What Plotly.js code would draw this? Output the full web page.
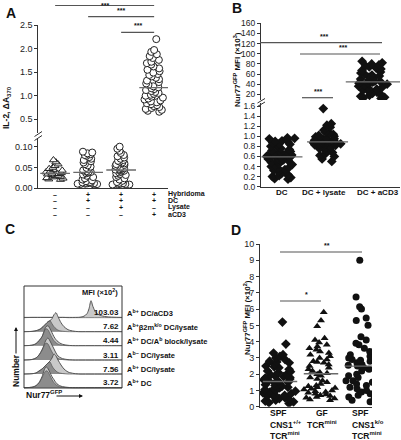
<!DOCTYPE html>
<html><head><meta charset="utf-8">
<script src="https://cdn.plot.ly/plotly-3.0.1.min.js"></script>
<style>html,body{margin:0;padding:0;background:#fff}#chart{width:401px;height:440px}</style>
</head><body><div id="chart"></div>
<script>
// ================= DATA =================
// Panel A: IL-2 (ΔA370) per culture condition
const aTableRows = ['Hybridoma', 'DC', 'Lysate', 'aCD3'];
const aTableSigns = [
  ['–', '+', '+', '+'],
  ['–', '+', '+', '+'],
  ['–', '–', '+', '–'],
  ['–', '–', '–', '+']
];
const aHybridoma = [0.068, 0.063, 0.058, 0.054, 0.050, 0.047, 0.045, 0.043, 0.041, 0.039, 0.037, 0.036,
  0.035, 0.034, 0.033, 0.031, 0.030, 0.028, 0.027, 0.025, 0.024, 0.022, 0.021];
const aDC = [0.088, 0.086, 0.084, 0.082, 0.080, 0.078, 0.075, 0.071, 0.068, 0.065, 0.062, 0.058, 0.055,
  0.052, 0.049, 0.046, 0.043, 0.041, 0.040, 0.039, 0.038, 0.036, 0.033, 0.030, 0.027, 0.024, 0.021,
  0.019, 0.017, 0.015, 0.014, 0.013, 0.013, 0.012, 0.012, 0.011, 0.011, 0.010, 0.010, 0.009];
const aLysate = [0.100, 0.095, 0.090, 0.085, 0.080, 0.077, 0.074, 0.071, 0.068, 0.066, 0.064, 0.062,
  0.060, 0.058, 0.056, 0.054, 0.052, 0.050, 0.048, 0.047, 0.046, 0.045, 0.044, 0.043, 0.042, 0.040,
  0.038, 0.036, 0.034, 0.032, 0.030, 0.027, 0.024, 0.021, 0.018, 0.015, 0.013, 0.012, 0.011, 0.010,
  0.010, 0.009, 0.009, 0.008, 0.008];
const aCD3 = [2.20, 1.97, 1.93, 1.88, 1.84, 1.80, 1.76, 1.72, 1.69, 1.66, 1.62, 1.58, 1.55, 1.52, 1.49,
  1.46, 1.44, 1.41, 1.38, 1.35, 1.32, 1.29, 1.26, 1.23, 1.20, 1.18, 1.16, 1.14, 1.12, 1.10, 1.08, 1.06,
  1.04, 1.02, 1.00, 0.98, 0.96, 0.94, 0.92, 0.90, 0.88, 0.86, 0.84, 0.82, 0.80, 0.78, 0.76, 0.74, 0.72,
  0.70, 0.68, 0.66];

// Panel B: Nur77GFP MFI (x10^3)
const bCategories = ['DC', 'DC + lysate', 'DC + aCD3'];
const bDC = [0.97, 0.96, 0.95, 0.93, 0.91, 0.90, 0.89, 0.87, 0.85, 0.84, 0.82, 0.80, 0.78, 0.76, 0.74,
  0.72, 0.70, 0.68, 0.67, 0.66, 0.65, 0.64, 0.63, 0.62, 0.61, 0.60, 0.59, 0.59, 0.58, 0.57, 0.56, 0.55,
  0.54, 0.53, 0.52, 0.51, 0.50, 0.48, 0.46, 0.44, 0.42, 0.40, 0.38, 0.36, 0.34, 0.32, 0.30, 0.28, 0.26,
  0.24, 0.22, 0.20, 0.18, 0.16, 0.15];
const bLysate = [1.55, 1.25, 1.22, 1.18, 1.12, 1.08, 1.06, 1.04, 1.02, 1.00, 0.99, 0.98, 0.96, 0.95,
  0.94, 0.93, 0.92, 0.91, 0.90, 0.89, 0.89, 0.88, 0.87, 0.86, 0.85, 0.84, 0.83, 0.82, 0.80, 0.78, 0.76,
  0.74, 0.72, 0.70, 0.68, 0.65, 0.62, 0.60, 0.55, 0.50];
const bCD3 = [85, 82, 80, 78, 76, 74, 72, 70, 67, 64, 62, 60, 58, 56, 54, 52, 50, 48, 46, 45, 44, 43,
  42, 41, 40, 38, 36, 34, 32, 30, 28, 26, 24, 22, 20, 18, 16, 14, 13, 12];

// Panel C: Nur77GFP histograms (overlaid on the control histogram)
const cBins = [0, 8, 12, 15, 18, 20, 22, 24, 26, 28, 30, 32, 34, 37, 40, 44, 50, 56, 60, 63, 65, 67, 69, 72, 76, 82, 98];
const cNames = ['A<sup>b+</sup> DC/aCD3', 'A<sup>b+</sup>β2m<sup>k/o</sup> DC/lysate',
  'A<sup>b+</sup> DC/A<sup>b</sup> block/lysate', 'A<sup>b−</sup> DC/lysate', 'A<sup>b+</sup> DC/lysate', 'A<sup>b+</sup> DC'];
const cMFI = ['103.03', '7.62', '4.44', '3.11', '7.56', '3.72'];
const cAbDCaCD3   = [0.3, 0.3, 0.3, 0.3, 0.3, 0.3, 0.3, 0.3, 0.3, 0.3, 0.3, 0.3, 0.3, 0.3, 0.3, 0.3, 0.3, 0.5, 1.5, 4, 9, 17, 11, 5, 2.5, 1, 0.3];
const cB2mLysate  = [0, 0.3, 1, 2, 4, 6, 8, 10, 11, 13, 17, 19, 15, 9, 5, 2, 0.5, 0, 0, 0, 0, 0, 0, 0, 0, 0, 0];
const cBlockLysate= [0, 0.5, 2, 5, 9, 14, 19, 20, 17, 13, 9, 6, 4, 2, 1, 0.4, 0, 0, 0, 0, 0, 0, 0, 0, 0, 0, 0];
const cAbNegLysate= [0, 0.5, 2, 5, 10, 15, 20, 22, 19, 15, 11, 7, 4, 2, 1, 0.4, 0, 0, 0, 0, 0, 0, 0, 0, 0, 0, 0];
const cAbDCLysate = [0, 0.3, 1, 3, 5, 7, 9, 11, 13, 16, 20, 18, 14, 9, 5, 2, 0.5, 0, 0, 0, 0, 0, 0, 0, 0, 0, 0];
const cAbDC       = [0, 0.5, 2, 5, 11, 17, 21, 19, 15, 11, 8, 5, 3, 1.5, 0.8, 0.3, 0, 0, 0, 0, 0, 0, 0, 0, 0, 0, 0];
const cControl    = [0, 0.5, 2, 5, 10, 14, 17, 16, 12, 8, 5, 3, 1.5, 0.7, 0.3, 0, 0, 0, 0, 0, 0, 0, 0, 0, 0, 0, 0];

// Panel D: Nur77GFP MFI (x10^2)
const dLabelLines = [
  ['SPF', 'CNS1<sup>+/+</sup>', 'TCR<sup>mini</sup>'],
  ['GF', 'TCR<sup>mini</sup>'],
  ['SPF', 'CNS1<sup>k/o</sup>', 'TCR<sup>mini</sup>']
];
const dSPFwt = [5.2, 3.85, 3.3, 3.2, 3.1, 3.0, 2.9, 2.8, 2.75, 2.7, 2.6, 2.5, 2.45, 2.4, 2.3, 2.2, 2.15, 2.1,
  2.0, 1.95, 1.9, 1.85, 1.8, 1.75, 1.7, 1.65, 1.6, 1.55, 1.5, 1.45, 1.4, 1.35, 1.3, 1.25, 1.2, 1.15, 1.1,
  1.05, 1.0, 0.95, 0.9, 0.85, 0.8, 0.75, 0.7, 0.65, 0.6, 0.55, 0.5, 0.45, 0.4, 0.35, 0.3, 0.25, 0.2];
const dGF = [5.8, 5.3, 4.95, 4.2, 4.1, 3.95, 3.8, 3.7, 3.6, 3.5, 3.4, 3.3, 3.2, 3.1, 3.0, 2.9, 2.8, 2.75,
  2.7, 2.6, 2.5, 2.4, 2.3, 2.2, 2.1, 2.05, 2.0, 1.9, 1.8, 1.7, 1.6, 1.5, 1.4, 1.3, 1.25, 1.2, 1.15, 1.1,
  1.05, 1.0, 0.95, 0.9, 0.85, 0.8, 0.75, 0.7, 0.65, 0.6, 0.55, 0.5, 0.45, 0.4];
const dSPFko = [9.0, 6.75, 6.15, 6.0, 5.45, 5.3, 5.0, 4.3, 4.1, 3.9, 3.8, 3.6, 3.4, 3.2, 3.1, 3.0, 2.9,
  2.85, 2.8, 2.7, 2.6, 2.55, 2.5, 2.4, 2.3, 2.2, 2.0, 1.9, 1.8, 1.7, 1.6, 1.6, 1.5, 1.4, 1.3, 1.2, 1.1,
  1.0, 0.9, 0.8, 0.7, 0.6, 0.5, 0.4, 0.3];

// ================= HELPERS =================
const W = 401, H = 440;
const px = v => v / W;
const py = v => 1 - v / H;
const dom = (top, bottom) => [1 - bottom / H, 1 - top / H];
const FONT = 'Liberation Sans, Arial, sans-serif';
function median(a) {
  const s = a.slice().sort((p, q) => p - q);
  const n = s.length;
  return n % 2 ? s[(n - 1) / 2] : (s[n / 2 - 1] + s[n / 2]) / 2;
}
function strip(vals, pos, xa, ya, marker, width) {
  return {type: 'box', x0: pos, y: vals, xaxis: xa, yaxis: ya, boxpoints: 'all', jitter: 1, pointpos: 0,
    width: width, fillcolor: 'rgba(0,0,0,0)', line: {width: 0, color: 'rgba(0,0,0,0)'},
    marker: marker, hoverinfo: 'skip', showlegend: false};
}
function medLine(vals, pos, half, xa, ya) {
  const m = median(vals);
  return {type: 'scatter', mode: 'lines', x: [pos - half, pos + half], y: [m, m], xaxis: xa, yaxis: ya,
    line: {color: '#6a6a6a', width: 1.3}, hoverinfo: 'skip', showlegend: false};
}
const openCircle = {symbol: 'circle', size: 7, color: '#fff', line: {color: '#222', width: 1}};
const openTri = {symbol: 'triangle-up', size: 7, color: '#fff', line: {color: '#222', width: 1}};
const fDiamond = {symbol: 'diamond', size: 7.5, color: '#111', line: {width: 0}};
const fTri = {symbol: 'triangle-up', size: 7, color: '#111', line: {width: 0}};
const fCircle = {symbol: 'circle', size: 7, color: '#111', line: {width: 0}};

const traces = [];
// ---- Panel A ----
traces.push(strip(aHybridoma, 0, 'x2', 'y2', openTri, 0.65));
traces.push(strip(aDC, 1, 'x2', 'y2', openCircle, 0.75));
traces.push(strip(aLysate, 2, 'x2', 'y2', openCircle, 0.75));
traces.push(strip(aCD3, 3, 'x', 'y', openCircle, 0.6));
traces.push(medLine(aHybridoma, 0, 0.45, 'x2', 'y2'));
traces.push(medLine(aDC, 1, 0.45, 'x2', 'y2'));
traces.push(medLine(aLysate, 2, 0.45, 'x2', 'y2'));
traces.push(medLine(aCD3, 3, 0.45, 'x', 'y'));
// ---- Panel B ----
traces.push(strip(bDC, 0, 'x4', 'y4', fDiamond, 0.72));
traces.push(strip(bLysate, 1, 'x4', 'y4', fDiamond, 0.72));
traces.push(strip(bCD3, 2, 'x3', 'y3', fDiamond, 0.72));
traces.push(medLine(bDC, 0, 0.45, 'x4', 'y4'));
traces.push(medLine(bLysate, 1, 0.45, 'x4', 'y4'));
traces.push(medLine(bCD3, 2, 0.6, 'x3', 'y3'));
// ---- Panel C ----
const cCurves = [cAbDCaCD3, cB2mLysate, cBlockLysate, cAbNegLysate, cAbDCLysate, cAbDC];
cCurves.forEach((curve, i) => {
  const xa = 'x' + (5 + i), ya = 'y' + (5 + i);
  const overlap = curve.map((v, k) => Math.min(v, cControl[k]));
  traces.push({type: 'scatter', mode: 'lines', x: cBins, y: curve, xaxis: xa, yaxis: ya, fill: 'tozeroy',
    fillcolor: '#c9c9c9', line: {width: 0, shape: 'spline', smoothing: 0.8}, hoverinfo: 'skip', showlegend: false});
  traces.push({type: 'scatter', mode: 'lines', x: cBins, y: overlap, xaxis: xa, yaxis: ya, fill: 'tozeroy',
    fillcolor: '#8c8c8c', line: {width: 0.7, color: '#555', shape: 'spline', smoothing: 0.8}, hoverinfo: 'skip', showlegend: false});
  traces.push({type: 'scatter', mode: 'lines', x: cBins, y: curve, xaxis: xa, yaxis: ya,
    line: {width: 1, color: '#555', shape: 'spline', smoothing: 0.8}, hoverinfo: 'skip', showlegend: false});
});
// ---- Panel D ----
traces.push(strip(dSPFwt, 0, 'x11', 'y11', fDiamond, 0.85));
traces.push(strip(dGF, 1, 'x11', 'y11', fTri, 0.85));
traces.push(strip(dSPFko, 2, 'x11', 'y11', fCircle, 0.85));
traces.push(medLine(dSPFwt, 0, 0.42, 'x11', 'y11'));
traces.push(medLine(dGF, 1, 0.42, 'x11', 'y11'));
traces.push(medLine(dSPFko, 2, 0.42, 'x11', 'y11'));

// ================= LAYOUT =================
const tickFont = {family: FONT, size: 9, color: '#222'};
const yBase = {showgrid: false, zeroline: false, showline: true, linecolor: '#333', linewidth: 1, ticks: 'outside',
  ticklen: 3, tickwidth: 1, tickcolor: '#333', tickfont: tickFont, fixedrange: true};
const xHidden = {showgrid: false, zeroline: false, showline: false, ticks: '', showticklabels: false, fixedrange: true, type: 'linear'};
const xLine = Object.assign({}, xHidden, {showline: true, linecolor: '#333', linewidth: 1});

const layout = {
  width: W, height: H, margin: {l: 0, r: 0, t: 0, b: 0}, paper_bgcolor: '#fff', plot_bgcolor: 'rgba(0,0,0,0)',
  showlegend: false, font: {family: FONT, color: '#111'},
  // A
  xaxis: Object.assign({}, xHidden, {domain: [px(38.3), px(168)], range: [-0.51, 3.42], anchor: 'y'}),
  yaxis: Object.assign({}, yBase, {domain: dom(25, 133), range: [0.21, 2.5], tickvals: [0.5, 1, 1.5, 2, 2.5], tickformat: '.1f', anchor: 'x'}),
  xaxis2: Object.assign({}, xLine, {domain: [px(38.3), px(168)], range: [-0.51, 3.42], anchor: 'y2'}),
  yaxis2: Object.assign({}, yBase, {domain: dom(139, 188.3), range: [0, 0.1185], tickvals: [0, 0.05, 0.1], tickformat: '.2f', anchor: 'x2'}),
  // B
  xaxis3: Object.assign({}, xHidden, {domain: [px(261), px(400)], range: [-0.46, 2.59], anchor: 'y3'}),
  yaxis3: Object.assign({}, yBase, {domain: dom(23.3, 100), range: [8.8, 160], tick0: 0, dtick: 20, anchor: 'x3', tickfont: {family: FONT, size: 8.5, color: '#222'}}),
  xaxis4: Object.assign({}, xLine, {domain: [px(261), px(400)], range: [-0.46, 2.59], anchor: 'y4'}),
  yaxis4: Object.assign({}, yBase, {domain: dom(103, 186.7), range: [0, 1.66], tick0: 0, dtick: 0.2, tickformat: '.1f', anchor: 'x4', tickfont: {family: FONT, size: 8.5, color: '#222'}}),
  // D
  xaxis11: Object.assign({}, xLine, {domain: [px(260), px(372)], range: [-0.488, 2.244], anchor: 'y11'}),
  yaxis11: Object.assign({}, yBase, {domain: dom(244, 406.7), range: [0, 10], tick0: 0, dtick: 1, anchor: 'x11'}),
  shapes: [], annotations: []
};
// C rows
const cBaselines = [317.7, 331.7, 345.7, 360, 374, 387.7];
cBaselines.forEach((b, i) => {
  layout['xaxis' + (5 + i)] = {visible: false, domain: [px(24), px(122)], range: [0, 98], anchor: 'y' + (5 + i), fixedrange: true};
  layout['yaxis' + (5 + i)] = {visible: false, domain: dom(b - 29, b + 1), range: [-1, 29], anchor: 'x' + (5 + i), fixedrange: true};
});

const S = layout.shapes, A = layout.annotations;
const ln = (x0, y0, x1, y1, xref, extra) => Object.assign({type: 'line', xref: xref || 'paper', yref: 'paper',
  x0: xref ? x0 : px(x0), x1: xref ? x1 : px(x1), y0: py(y0), y1: py(y1), line: {color: '#555', width: 1.2}}, extra || {});
const txt = (x, y, text, opts) => Object.assign({xref: 'paper', yref: 'paper', x: px(x), y: py(y), text: text, showarrow: false,
  font: {family: FONT, size: 8, color: '#111'}, xanchor: 'center', yanchor: 'middle'}, opts || {});

// panel letters
[['A', 11, 13], ['B', 237, 8], ['C', 10, 229], ['D', 236, 230]].forEach(([t, x, y]) =>
  A.push(txt(x, y, '<b>' + t + '</b>', {font: {family: FONT, size: 14, color: '#111'}})));

// ---- A annotations ----
A.push(txt(6, 108, '<b>IL-2, ΔA<sub>370</sub></b>', {textangle: -90, font: {family: FONT, size: 8.5, color: '#111'}}));
const aRowY = [194, 200.7, 207.4, 214];
aTableRows.forEach((r, i) => {
  A.push(txt(166, aRowY[i], '<b>' + r + '</b>', {xanchor: 'left', font: {family: FONT, size: 7, color: '#111'}}));
  aTableSigns[i].forEach((s, j) => A.push({xref: 'x2', yref: 'paper', x: j, y: py(aRowY[i]), text: '<b>' + s + '</b>',
    showarrow: false, xanchor: 'center', yanchor: 'middle', font: {family: FONT, size: 7, color: '#111'}}));
});
[[0, 3, 5.5], [1, 3, 16.7], [2, 3, 32.3]].forEach(([c0, c1, y], k) => {
  S.push(ln(c0, y, c1, y, 'x'));
  A.push({xref: 'x', yref: 'paper', x: (c0 + c1) / 2, y: k === 0 ? 1 : py(y - 1), text: '<b>***</b>', showarrow: false,
    xanchor: 'center', yanchor: k === 0 ? 'top' : 'bottom', font: {family: FONT, size: 7, color: '#111'}});
});
// axis breaks
S.push(ln(34.5, 136.5, 42, 131.5, null, {line: {color: '#333', width: 1}}));
S.push(ln(34.5, 140.5, 42, 135.5, null, {line: {color: '#333', width: 1}}));
S.push(ln(257.5, 103, 265, 98.5, null, {line: {color: '#333', width: 1}}));
S.push(ln(257.5, 106.5, 265, 102, null, {line: {color: '#333', width: 1}}));

// ---- B annotations ----
A.push(txt(237, 70, '<b>Nur77<sup>GFP</sup> MFI (×10<sup>3</sup>)</b>', {textangle: -90, font: {family: FONT, size: 8, color: '#111'}}));
[[260, 382, 42.7], [300, 380, 54], [302, 333, 97.7]].forEach(([x0, x1, y]) => {
  S.push(ln(x0, y, x1, y));
  A.push(txt((x0 + x1) / 2 + (x1 - x0 < 40 ? 0 : 3), y - 1, '<b>***</b>', {yanchor: 'bottom', font: {family: FONT, size: 7, color: '#111'}}));
});
const bLabelPos = [[282, 'center'], [324, 'center'], [400.5, 'right']];
bCategories.forEach((c, i) => A.push(txt(bLabelPos[i][0], 192.5, '<b>' + c + '</b>', {xanchor: bLabelPos[i][1], font: {family: FONT, size: 8, color: '#111'}})));

// ---- C annotations ----
S.push({type: 'rect', xref: 'paper', yref: 'paper', x0: px(24), x1: px(122), y0: py(388), y1: py(286),
  line: {color: '#333', width: 1}, fillcolor: 'rgba(0,0,0,0)'});
A.push(txt(120, 292, '<b>MFI (×10<sup>2</sup>)</b>', {xanchor: 'right', font: {family: FONT, size: 7.5, color: '#111'}}));
cBaselines.forEach((b, i) => {
  A.push(txt(121, b - 5, '<b>' + cMFI[i] + '</b>', {xanchor: 'right', font: {family: FONT, size: 8, color: '#111'}}));
  A.push(txt(125, b - 5, '<b>' + cNames[i] + '</b>', {xanchor: 'left', font: {family: FONT, size: 7.5, color: '#111'}}));
});
A.push(txt(16, 371, '<b>Number</b>', {textangle: -90, font: {family: FONT, size: 8.5, color: '#111'}}));
A.push({xref: 'paper', yref: 'paper', x: px(16), y: py(327), ax: 0, ay: 28, text: '', showarrow: true,
  arrowhead: 2, arrowsize: 0.8, arrowwidth: 1, arrowcolor: '#111'});
A.push(txt(24, 394, '<b>Nur77<sup>GFP</sup></b>', {xanchor: 'left', font: {family: FONT, size: 8.5, color: '#111'}}));
A.push({xref: 'paper', yref: 'paper', x: px(83), y: py(396), ax: -28, ay: 0, text: '', showarrow: true,
  arrowhead: 2, arrowsize: 0.8, arrowwidth: 1, arrowcolor: '#111'});

// ---- D annotations ----
A.push(txt(247, 318, '<b>Nur77<sup>GFP</sup> MFI (×10<sup>2</sup>)</b>', {textangle: -90, font: {family: FONT, size: 8, color: '#111'}}));
[[0, 2, 252, '**'], [0, 1, 301, '*']].forEach(([c0, c1, y, t]) => {
  S.push(ln(c0, y, c1, y, 'x11'));
  A.push({xref: 'x11', yref: 'paper', x: (c0 + c1) / 2 + 0.15, y: py(y - 1), text: '<b>' + t + '</b>', showarrow: false,
    xanchor: 'center', yanchor: 'bottom', font: {family: FONT, size: 7, color: '#111'}});
});
const dLabelAnchor = [['left', 268], ['center', 322], ['left', 350]];
const dLineY = [[413.3, 424.3, 435.3], [413.3, 424.3], [413.3, 424.3, 435.3]];
dLabelLines.forEach((lines, i) => {
  lines.forEach((l, k) => A.push(txt(dLabelAnchor[i][1], dLineY[i][k], '<b>' + l + '</b>', {xanchor: dLabelAnchor[i][0],
    font: {family: FONT, size: 8.5, color: '#111'}})));
});

Plotly.newPlot('chart', traces, layout, {displayModeBar: false, staticPlot: true});
</script>
</body></html>
